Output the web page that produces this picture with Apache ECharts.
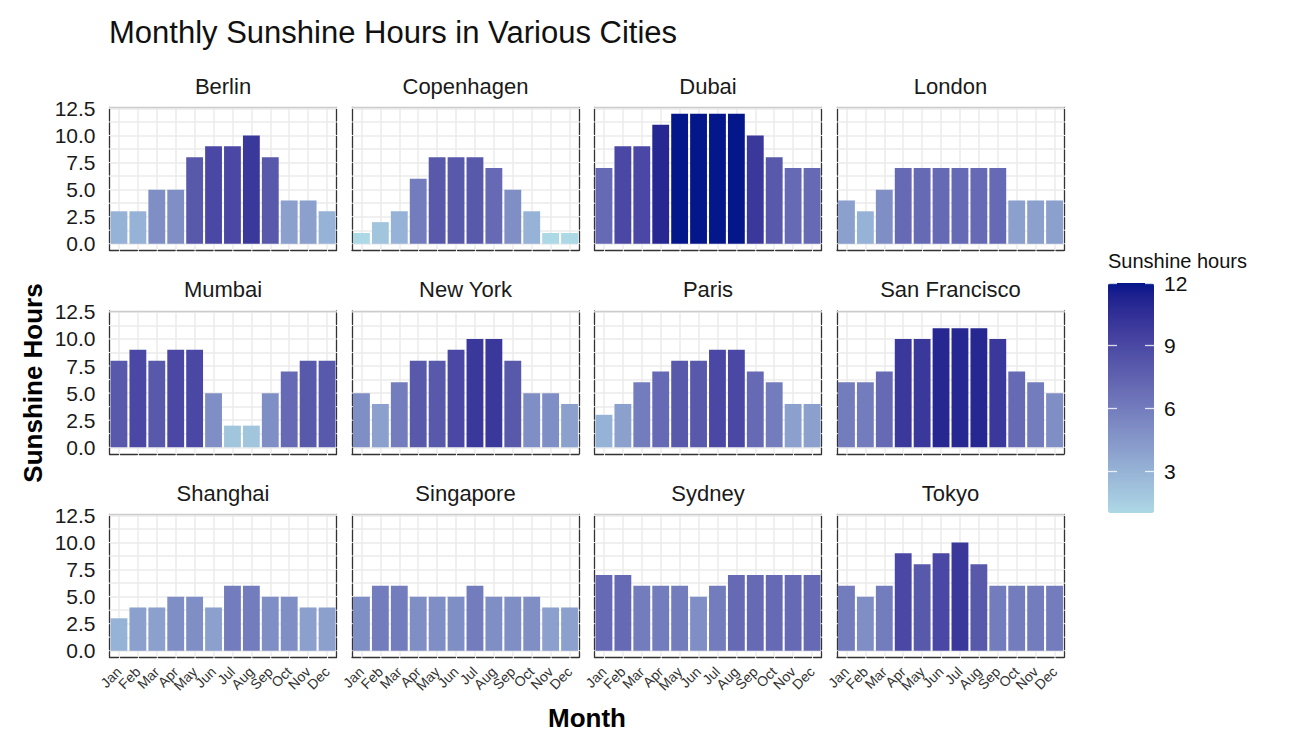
<!DOCTYPE html>
<html>
<head>
<meta charset="utf-8">
<script src="https://cdn.jsdelivr.net/npm/echarts@6/dist/echarts.min.js"></script>
<style>html,body{margin:0;padding:0;background:#fff}#c{width:1294px;height:756px}</style>
</head>
<body>
<div id="c"></div>
<script>
// ---------------- data ----------------
const months = ['Jan','Feb','Mar','Apr','May','Jun','Jul','Aug','Sep','Oct','Nov','Dec'];
const cities = ['Berlin','Copenhagen','Dubai','London','Mumbai','New York','Paris','San Francisco','Shanghai','Singapore','Sydney','Tokyo'];
const berlin       = [3, 3, 5, 5, 8, 9, 9, 10, 8, 4, 4, 3];
const copenhagen   = [1, 2, 3, 6, 8, 8, 8, 7, 5, 3, 1, 1];
const dubai        = [7, 9, 9, 11, 12, 12, 12, 12, 10, 8, 7, 7];
const london       = [4, 3, 5, 7, 7, 7, 7, 7, 7, 4, 4, 4];
const mumbai       = [8, 9, 8, 9, 9, 5, 2, 2, 5, 7, 8, 8];
const newYork      = [5, 4, 6, 8, 8, 9, 10, 10, 8, 5, 5, 4];
const paris        = [3, 4, 6, 7, 8, 8, 9, 9, 7, 6, 4, 4];
const sanFrancisco = [6, 6, 7, 10, 10, 11, 11, 11, 10, 7, 6, 5];
const shanghai     = [3, 4, 4, 5, 5, 4, 6, 6, 5, 5, 4, 4];
const singapore    = [5, 6, 6, 5, 5, 5, 6, 5, 5, 5, 4, 4];
const sydney       = [7, 7, 6, 6, 6, 5, 6, 7, 7, 7, 7, 7];
const tokyo        = [6, 5, 6, 9, 8, 9, 10, 8, 6, 6, 6, 6];
const cityValues = [berlin, copenhagen, dubai, london, mumbai, newYork, paris, sanFrancisco, shanghai, singapore, sydney, tokyo];

const yLabelTicks = [0, 2.5, 5, 7.5, 10, 12.5];
const yGridTicks  = [0, 1.25, 2.5, 3.75, 5, 6.25, 7.5, 8.75, 10, 11.25, 12.5];
const legendTicks = [3, 6, 9, 12];
const legendMin = 1, legendMax = 12;
const yMin = -0.6, yMax = 12.6;

// ---------------- layout / style ----------------
const FONT = '"Liberation Sans", Arial, Helvetica, sans-serif';
const colLeft = [109.5, 352, 594.5, 837];
const rowTop = [107.3, 310.8, 514.3];
const PW = 227, PH = 143;
const GAP = 2;
const lowColor = '#ADD8E6', highColor = '#03168A';

// Lab interpolation (as ggplot's gradient does)
function hexToRgb(h){h=h.replace('#','');return [0,2,4].map(i=>parseInt(h.substr(i,2),16));}
function toLin(c){c/=255;return c<=0.04045?c/12.92:Math.pow((c+0.055)/1.055,2.4);}
function fromLin(c){const v=c<=0.0031308?12.92*c:1.055*Math.pow(c,1/2.4)-0.055;return Math.round(Math.max(0,Math.min(1,v))*255);}
const Xn=0.95047,Yn=1,Zn=1.08883;
function fLab(t){return t>0.008856?Math.cbrt(t):7.787*t+16/116;}
function fInv(t){return t>0.206893?t*t*t:(t-16/116)/7.787;}
function rgbToLab(rgb){const [R,G,B]=rgb.map(toLin);
  const X=0.4124*R+0.3576*G+0.1805*B, Y=0.2126*R+0.7152*G+0.0722*B, Z=0.0193*R+0.1192*G+0.9505*B;
  const fx=fLab(X/Xn), fy=fLab(Y/Yn), fz=fLab(Z/Zn);
  return [116*fy-16, 500*(fx-fy), 200*(fy-fz)];}
function labToHex(lab){const fy=(lab[0]+16)/116, fx=fy+lab[1]/500, fz=fy-lab[2]/200;
  const X=Xn*fInv(fx), Y=Yn*fInv(fy), Z=Zn*fInv(fz);
  const R=3.2406*X-1.5372*Y-0.4986*Z, G=-0.9689*X+1.8758*Y+0.0415*Z, B=0.0557*X-0.2040*Y+1.0570*Z;
  return '#'+[R,G,B].map(v=>fromLin(v).toString(16).padStart(2,'0')).join('');}
const labLo=rgbToLab(hexToRgb(lowColor)), labHi=rgbToLab(hexToRgb(highColor));
const rampColors=[];
for(let k=0;k<=30;k++){const t=k/30;rampColors.push(labToHex(labLo.map((v,j)=>v+(labHi[j]-v)*t)));}

function dash(period, firstCenter){
  let phase=(period-GAP)-(firstCenter-GAP/2);
  phase=((phase%period)+period)%period;
  return {type:[period-GAP, GAP], dashOffset: phase};
}
const u = PH/(yMax-yMin);
const band = PW/months.length;
const dashX = dash(band, band/2);
const dashY = dash(1.25*u, (0-yMin)*u);
const monthIdx = months.map((m,i)=>i);

const grids=[], xAxes=[], yAxes=[], series=[], graphics=[];
cities.forEach((city,i)=>{
  const r=Math.floor(i/4), c=i%4;
  grids.push({left:colLeft[c], top:rowTop[r], width:PW, height:PH, containLabel:false});
  xAxes.push({gridIndex:i, type:'category', data:months, position:'bottom',
    axisLine:{show:true, onZero:false, lineStyle:Object.assign({color:'#333', width:1.3}, dashX)},
    axisTick:{show:false},
    axisLabel:{show:r===2, interval:0, rotate:45, fontSize:14, margin:12, color:'#333', fontFamily:FONT},
    splitLine:{show:false}});
  xAxes.push({gridIndex:i, type:'value', position:'top', min:-0.5, max:months.length-0.5,
    axisLine:{show:true, onZero:false, lineStyle:{color:'#CCCCCC', width:1.3}},
    axisTick:{show:false, customValues:monthIdx},
    axisLabel:{show:false},
    splitLine:{show:true, lineStyle:{color:'#EBEBEB', width:1.5}}});
  yAxes.push({gridIndex:i, type:'value', position:'left', min:yMin, max:yMax,
    axisLine:{show:true, onZero:false, lineStyle:Object.assign({color:'#333', width:1.3}, dashY)},
    axisTick:{show:false, customValues:yGridTicks},
    axisLabel:{show:c===0, customValues:yLabelTicks, formatter:v=>v.toFixed(1), fontSize:21, color:'#1a1a1a', margin:14, fontFamily:FONT},
    splitLine:{show:true, lineStyle:{color:'#EBEBEB', width:1.5}}});
  yAxes.push({gridIndex:i, type:'value', position:'right', min:yMin, max:yMax,
    axisLine:{show:true, onZero:false, lineStyle:Object.assign({color:'#333', width:1.3}, dashY)},
    axisTick:{show:false}, axisLabel:{show:false}, splitLine:{show:false}});
  series.push({type:'bar', name:city, xAxisIndex:2*i, yAxisIndex:2*i, data:cityValues[i],
    barCategoryGap:'11%', z:3, silent:true});
  graphics.push({type:'text', x:colLeft[c]+PW/2, y:rowTop[r]-21,
    style:{text:city, font:'22px '+FONT, fill:'#1a1a1a', textAlign:'center', textVerticalAlign:'middle'}});
});

// legend colourbar tick axes
const LG = {left:1108, top:283, width:46, height:230};
grids.push(Object.assign({containLabel:false}, LG));
xAxes.push({gridIndex:12, type:'value', show:false, min:0, max:1});
yAxes.push({gridIndex:12, type:'value', position:'left', min:legendMin, max:legendMax, z:6,
  axisLine:{show:false, onZero:false}, axisTick:{show:true, inside:true, length:9, customValues:legendTicks, lineStyle:{color:'#ffffff', width:1.3, opacity:0.8}},
  axisLabel:{show:false}, splitLine:{show:false}});
yAxes.push({gridIndex:12, type:'value', position:'right', min:legendMin, max:legendMax, z:6,
  axisLine:{show:false, onZero:false}, axisTick:{show:true, inside:true, length:9, customValues:legendTicks, lineStyle:{color:'#ffffff', width:1.3, opacity:0.8}},
  axisLabel:{show:true, customValues:legendTicks, fontSize:21, color:'#111', margin:10, fontFamily:FONT},
  splitLine:{show:false}});

graphics.push({type:'text', x:1108, y:261, style:{text:'Sunshine hours', font:'20px '+FONT, fill:'#111', textAlign:'left', textVerticalAlign:'middle'}});
graphics.push({type:'text', x:587, y:718, style:{text:'Month', font:'bold 26px '+FONT, fill:'#000', textAlign:'center', textVerticalAlign:'middle'}});
graphics.push({type:'text', x:33, y:383, rotation:Math.PI/2, style:{text:'Sunshine Hours', font:'bold 26px '+FONT, fill:'#000', textAlign:'center', textVerticalAlign:'middle'}});

const chart = echarts.init(document.getElementById('c'), null, {renderer:'svg', width:1294, height:756});
chart.setOption({
  animation:false,
  backgroundColor:'#ffffff',
  textStyle:{fontFamily:FONT},
  title:{text:'Monthly Sunshine Hours in Various Cities', left:104, top:12,
    textStyle:{fontSize:31, fontWeight:'normal', color:'#111', fontFamily:FONT}},
  grid:grids, xAxis:xAxes, yAxis:yAxes, series:series,
  visualMap:{type:'continuous', min:legendMin, max:legendMax, seriesIndex:series.map((s,i)=>i),
    orient:'vertical', left:LG.left, top:LG.top, itemWidth:LG.width, itemHeight:LG.height,
    padding:0, calculable:false, hoverLink:false, inRange:{color:rampColors}, z:4},
  graphic:graphics
});
</script>
</body>
</html>
